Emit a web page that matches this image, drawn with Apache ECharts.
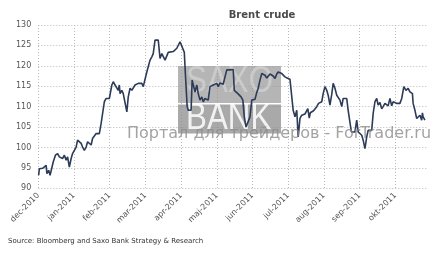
<!DOCTYPE html>
<html><head><meta charset="utf-8">
<script src="https://cdn.jsdelivr.net/npm/echarts@6/dist/echarts.min.js"></script>
<style>html,body{margin:0;padding:0;background:#fff}#c{width:445px;height:253px}</style>
</head><body><div id="c"></div>
<script>
const titleText = 'Brent crude';
const sourceText = 'Source: Bloomberg and Saxo Bank Strategy & Research';
const monthLabels = ['dec-2010','jan-2011','feb-2011','mar-2011','apr-2011','maj-2011','jun-2011','jul-2011','aug-2011','sep-2011','okt-2011'];
const yTicks = [90, 95, 100, 105, 110, 115, 120, 125, 130];
// position in months since 1 Dec 2010
const monthPos = [0.01,0.03,0.12,0.17,0.22,0.24,0.29,0.33,0.38,0.42,0.48,0.54,0.59,0.64,0.68,0.73,0.78,0.82,0.87,0.92,0.96,
1.01,1.06,1.10,1.15,1.20,1.24,1.29,1.34,1.38,1.43,1.48,1.52,1.57,1.62,1.66,1.71,1.76,1.80,1.85,1.90,1.99,
2.02,2.06,2.10,2.15,2.20,2.24,2.27,2.29,2.34,2.38,2.43,2.48,2.52,2.57,2.62,2.71,2.80,2.90,2.94,
3.04,3.08,3.13,3.18,3.22,3.27,3.32,3.36,3.41,3.46,3.50,3.55,3.60,3.64,3.69,3.78,3.83,3.88,3.97,
4.02,4.09,4.12,4.17,4.20,4.28,4.31,4.39,4.44,4.48,4.53,4.58,4.62,4.67,4.71,4.76,4.81,4.86,4.90,4.95,
5.00,5.04,5.09,5.14,5.18,5.23,5.28,5.32,5.37,5.42,5.46,5.49,5.54,5.59,5.63,5.68,5.73,5.77,5.82,5.87,5.93,5.98,
6.02,6.07,6.12,6.16,6.21,6.26,6.30,6.35,6.40,6.44,6.49,6.54,6.58,6.63,6.68,6.72,6.77,6.82,6.86,6.91,6.97,
7.05,7.10,7.14,7.19,7.24,7.28,7.33,7.38,7.42,7.47,7.52,7.55,7.59,7.62,7.66,7.71,7.75,7.80,7.85,7.89,7.94,7.98,
8.03,8.08,8.12,8.17,8.22,8.26,8.31,8.36,8.40,8.45,8.50,8.54,8.59,8.64,8.68,8.73,8.77,8.82,8.87,8.92,8.96,
9.01,9.06,9.10,9.15,9.20,9.24,9.29,9.34,9.38,9.43,9.48,9.52,9.57,9.62,9.66,9.71,9.76,9.80,9.85,9.90,9.94,9.99,
10.04,10.08,10.13,10.18,10.24,10.30,10.36,10.41,10.48,10.50,10.55,10.60,10.64,10.69,10.74,10.76,10.78,10.83];
const prices = [93.2,94.8,94.9,94.8,95.6,93.6,94.4,93.2,93.2,96.5,98.1,98.5,97.7,98.1,97.3,98.1,96.9,97.7,95.2,97.3,98.5,
99.3,100.1,101.8,102.2,101.0,100.1,99.3,100.1,101.4,101.0,100.6,102.2,101.8,103.4,103.0,103.4,105.9,105.9,111.2,112.0,112.0,
111.8,115.3,116.1,115.3,115.7,114.0,115.3,113.2,114.0,113.2,112.8,108.7,112.4,114.5,114.0,115.3,115.7,115.7,114.9,
118.5,118.5,121.4,122.2,123.0,126.3,126.7,126.3,121.8,123.0,123.3,121.4,121.8,123.3,123.5,123.5,123.9,124.3,125.9,
125.5,123.3,118.0,110.0,109.1,109.1,116.5,113.6,115.3,113.2,111.6,112.4,111.2,112.0,112.4,111.6,114.9,114.9,115.3,114.9,
115.7,114.9,115.8,116.1,115.5,117.3,119.0,118.8,119.0,118.8,119.1,114.0,114.0,113.2,113.6,112.4,111.6,107.5,105.0,105.0,107.5,111.6,
112.0,111.8,113.5,114.5,116.5,118.1,118.0,117.7,117.0,116.9,118.0,117.7,117.5,116.9,118.0,118.5,118.6,118.1,117.8,117.3,117.0,
116.7,116.5,109.1,107.5,109.1,102.6,107.1,107.9,107.9,108.2,108.3,109.5,107.2,108.5,108.7,109.0,108.8,110.0,110.8,111.0,111.2,113.2,
114.9,114.0,112.8,110.4,113.0,115.7,114.5,112.8,112.4,111.6,110.0,112.0,112.0,112.0,109.1,108.7,103.8,103.8,103.8,106.7,103.8,
103.4,103.0,101.8,99.7,102.6,104.2,104.2,104.2,108.3,111.2,112.0,110.4,111.0,109.5,110.0,110.8,111.2,110.2,112.0,110.2,111.2,110.8,
110.8,110.6,110.8,112.0,114.9,114.0,114.5,113.6,113.2,110.8,109.1,107.1,107.1,107.9,106.7,108.5,107.5,106.7];

const chart = echarts.init(document.getElementById('c'), null, {renderer: 'canvas'});
const font = 'DejaVu Sans';
const gridStyle = {color: '#b9b9b9', type: [1, 2], width: 1};
chart.setOption({
  animation: false,
  backgroundColor: '#fff',
  title: {text: titleText, left: 257, top: 5, textAlign: 'center',
    textStyle: {fontFamily: font, fontSize: 10, fontWeight: 'bold', color: '#4a4a4a'}},
  grid: {left: 38.3, right: 18.3, top: 25, bottom: 64.7, containLabel: false},
  xAxis: {type: 'value', min: 0, max: 10.88, interval: 1,
    axisLine: {show: false}, axisTick: {show: false},
    splitLine: {show: true, showMaxLine: false, lineStyle: gridStyle},
    axisLabel: {rotate: 45, fontFamily: font, fontSize: 8, color: '#555', margin: 6,
      showMaxLabel: false,
      formatter: v => (Number.isInteger(v) && monthLabels[v]) ? monthLabels[v] : ''}},
  yAxis: {type: 'value', min: yTicks[0], max: yTicks[yTicks.length-1], interval: 5,
    axisLine: {show: false}, axisTick: {show: false},
    splitLine: {show: true, lineStyle: gridStyle},
    axisLabel: {fontFamily: font, fontSize: 8, color: '#555', margin: 7}},
  graphic: [
    {type: 'rect', z: 1, shape: {x: 178, y: 66, width: 103, height: 37}, style: {fill: 'rgba(150,150,150,0.7)'}},
    {type: 'rect', z: 1, shape: {x: 178, y: 104.5, width: 103, height: 29}, style: {fill: 'rgba(140,140,140,0.75)'}},
    {type: 'text', z: 1, left: 186, top: 64, style: {text: 'SAXO', fill: 'rgba(225,225,225,0.5)', font: '36px "Liberation Sans"'}, scaleX: 0.87},
    {type: 'text', z: 1, left: 186, top: 101, style: {text: 'BANK', fill: 'rgba(255,255,255,0.85)', font: '36px "Liberation Sans"'}, scaleX: 0.87},
    {type: 'text', z: 10, left: 127, top: 126, style: {text: 'Портал для трейдеров - ForTrader.ru', fill: 'rgba(140,140,140,0.8)', font: '16px "DejaVu Sans"'}},
    {type: 'text', z: 10, left: 8, top: 238, style: {text: sourceText, fill: '#333', font: '7px "DejaVu Sans"'}}
  ],
  series: [{
    type: 'line', z: 5, showSymbol: false, symbol: 'none',
    data: monthPos.map((p, i) => [p, prices[i]]),
    lineStyle: {color: '#2c3b57', width: 1.6}
  }]
});
</script></body></html>
